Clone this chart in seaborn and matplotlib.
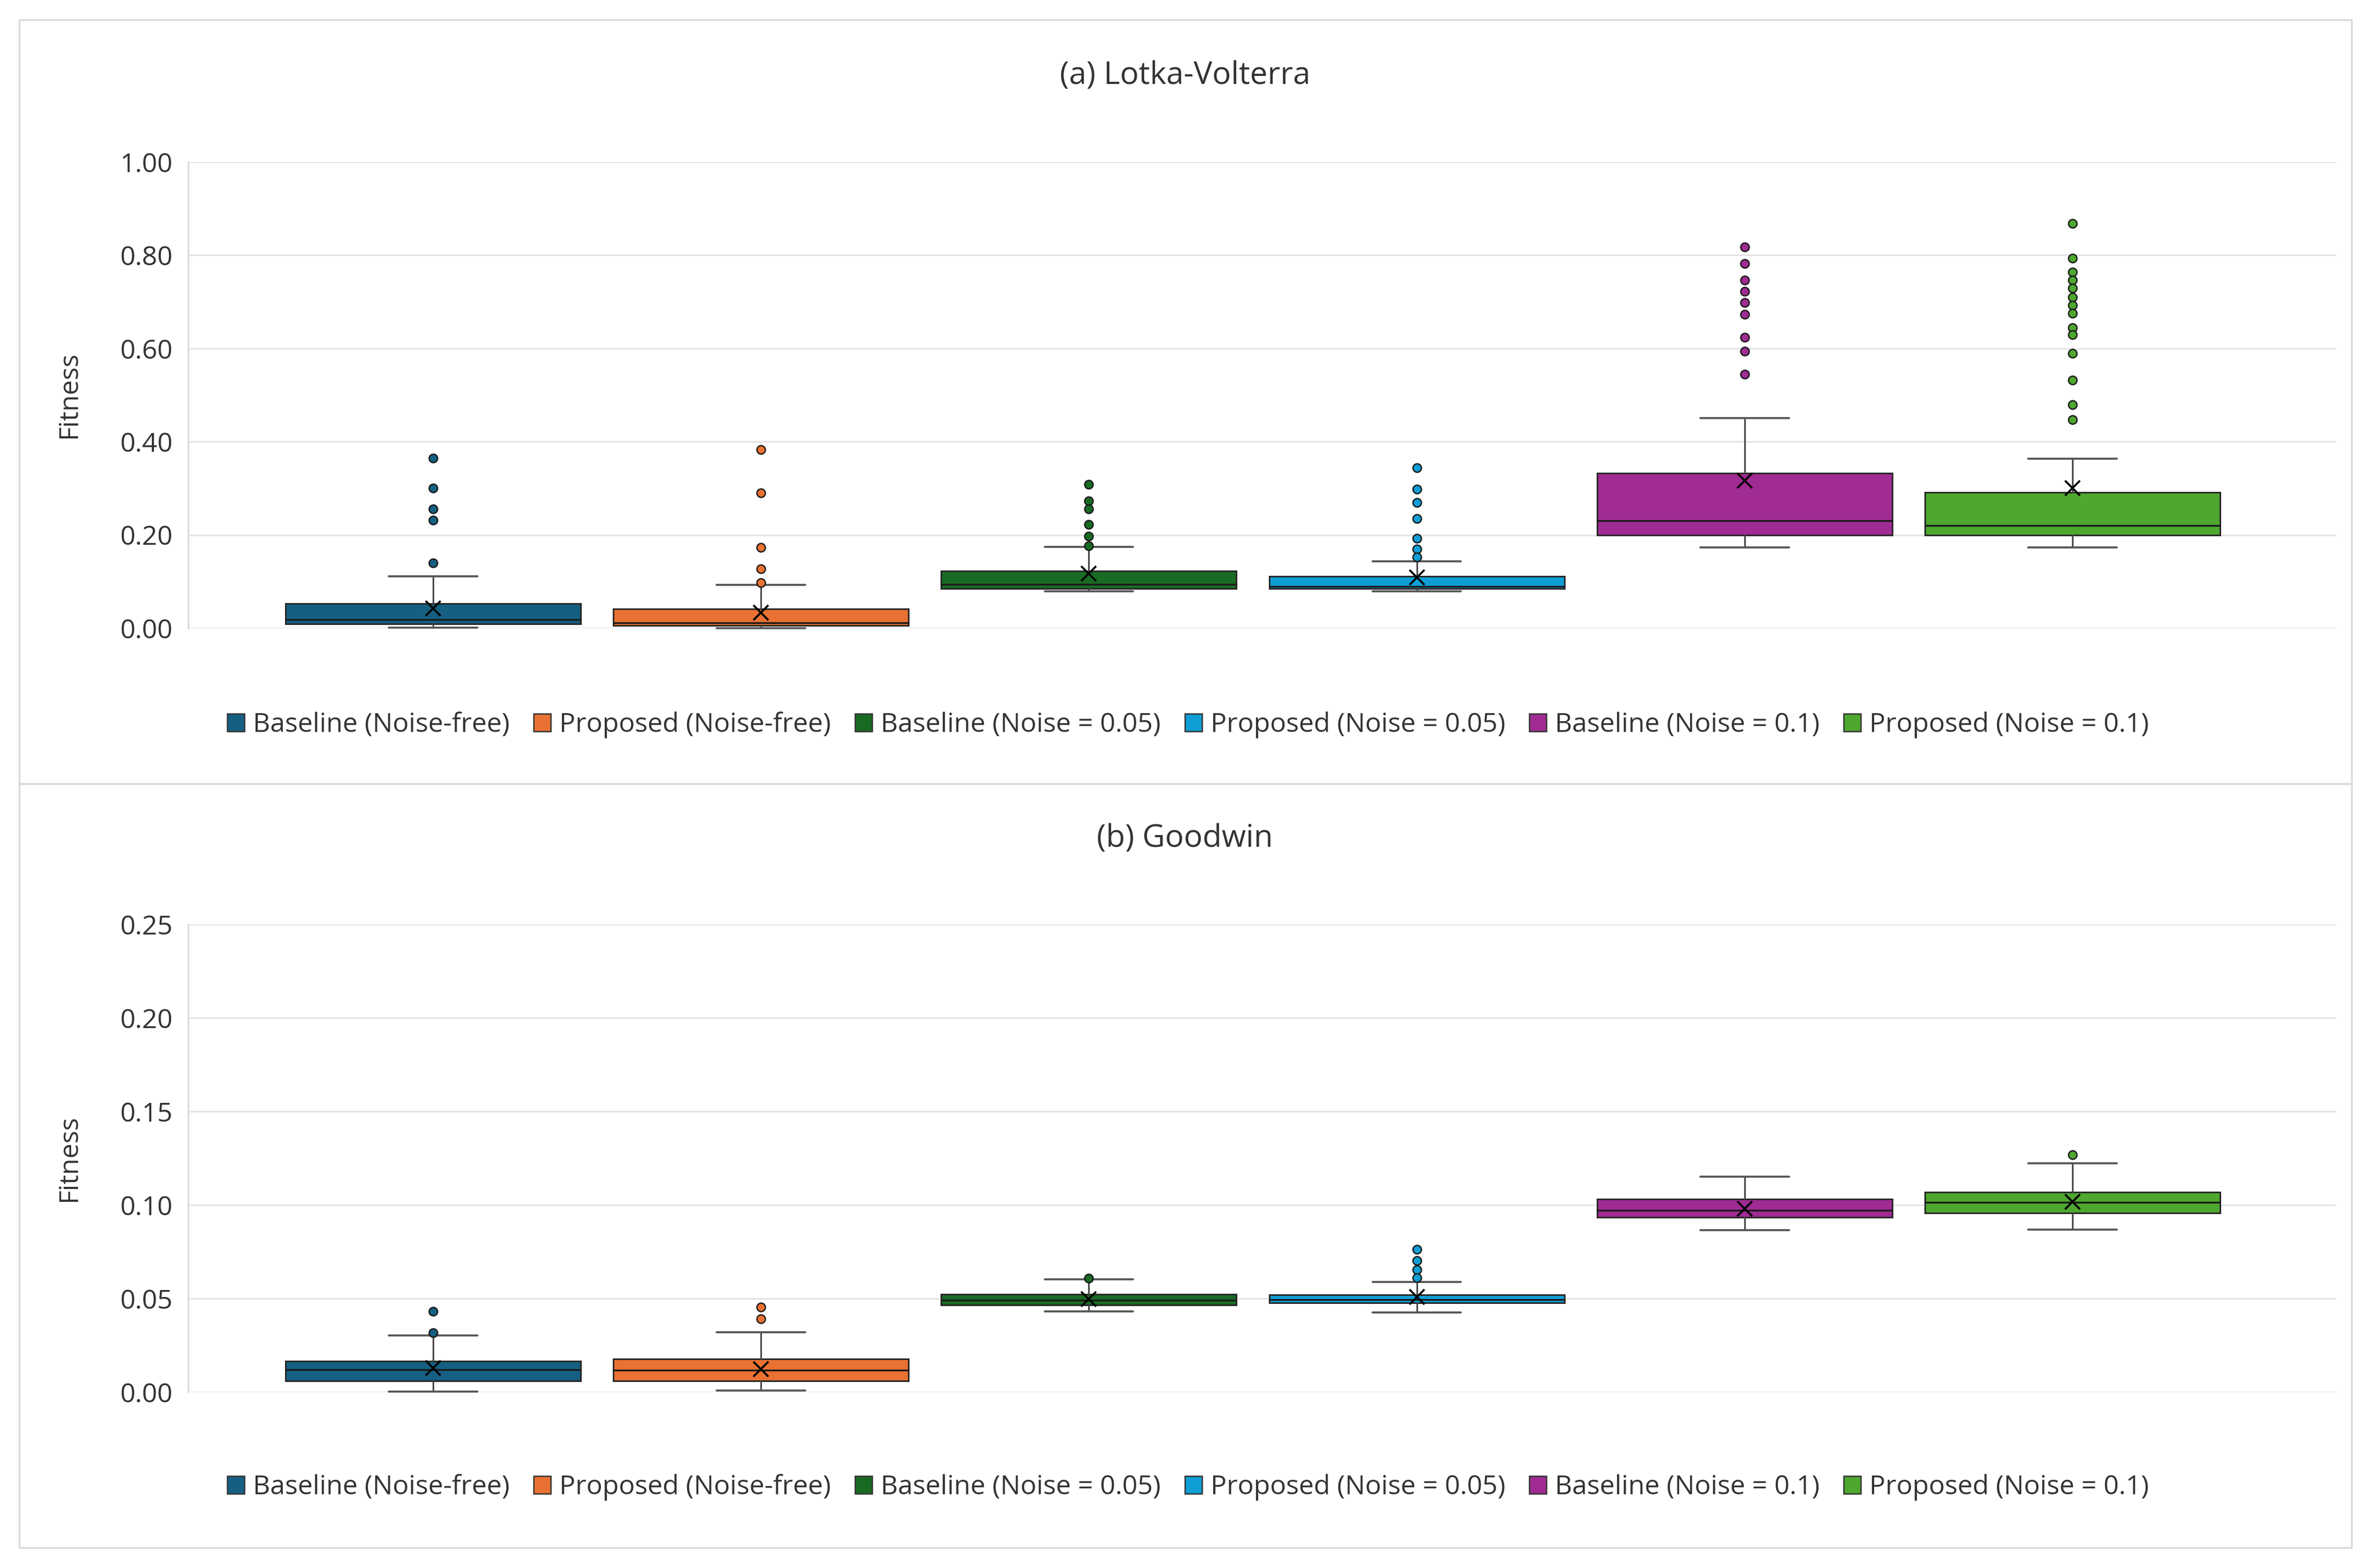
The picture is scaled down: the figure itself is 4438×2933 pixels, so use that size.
import matplotlib
matplotlib.use("Agg")
import matplotlib.pyplot as plt
from matplotlib.patches import Patch, Rectangle
import seaborn as sns

# ---------------- data ----------------
series = ["Baseline (Noise-free)", "Proposed (Noise-free)",
          "Baseline (Noise = 0.05)", "Proposed (Noise = 0.05)",
          "Baseline (Noise = 0.1)", "Proposed (Noise = 0.1)"]
colors = ["#156082", "#E97132", "#196B24", "#0F9ED5", "#A02B93", "#4EA72E"]

titles = ["(a) Lotka-Volterra", "(b) Goodwin"]
y_label = "Fitness"

# (a) Lotka-Volterra
lv_whislo = [0.001, 0.000, 0.079, 0.079, 0.173, 0.173]
lv_q1 = [0.009, 0.006, 0.085, 0.085, 0.199, 0.200]
lv_med = [0.018, 0.012, 0.094, 0.090, 0.231, 0.220]
lv_q3 = [0.053, 0.041, 0.123, 0.111, 0.333, 0.291]
lv_whishi = [0.111, 0.093, 0.174, 0.143, 0.451, 0.364]
lv_mean = [0.042, 0.033, 0.117, 0.109, 0.316, 0.301]
lv_fliers = [
    [0.365, 0.300, 0.256, 0.232, 0.140],
    [0.383, 0.290, 0.173, 0.127, 0.098],
    [0.309, 0.273, 0.256, 0.223, 0.197, 0.177],
    [0.344, 0.298, 0.269, 0.235, 0.193, 0.170, 0.153],
    [0.818, 0.782, 0.747, 0.722, 0.698, 0.673, 0.624, 0.594, 0.545],
    [0.868, 0.794, 0.764, 0.746, 0.729, 0.710, 0.693, 0.676, 0.645,
     0.630, 0.590, 0.532, 0.479, 0.447],
]
lv_ticks = [0.0, 0.2, 0.4, 0.6, 0.8, 1.0]

# (b) Goodwin
gw_whislo = [0.0004, 0.0010, 0.0432, 0.0426, 0.0866, 0.0870]
gw_q1 = [0.0060, 0.0060, 0.0466, 0.0476, 0.0933, 0.0957]
gw_med = [0.0120, 0.0116, 0.0492, 0.0495, 0.0971, 0.1014]
gw_q3 = [0.0165, 0.0178, 0.0524, 0.0520, 0.1031, 0.1069]
gw_whishi = [0.0302, 0.0321, 0.0602, 0.0588, 0.1152, 0.1222]
gw_mean = [0.0128, 0.0123, 0.0497, 0.0509, 0.0981, 0.1017]
gw_fliers = [
    [0.0432, 0.0317],
    [0.0455, 0.0392],
    [0.0609],
    [0.0764, 0.0703, 0.0653, 0.0612],
    [],
    [0.1269],
]
gw_ticks = [0.0, 0.05, 0.10, 0.15, 0.20, 0.25]

# ---------------- style ----------------
sns.set_theme(style="white")
plt.rcParams["font.family"] = ["Open Sans", "DejaVu Sans"]
palette = sns.color_palette(colors)

W, H = 4438, 2933
DPI = 300
fig = plt.figure(figsize=(W / DPI, H / DPI), dpi=DPI)
fig.patch.set_facecolor("white")

TEXT = "#333333"
GRID = "#e3e3e3"
BORDER = "#d9d9d9"


def fx(px):
    return px / W


def fy(py):
    return 1 - py / H


# panel borders
for top, bot in [(37, 1466), (1466, 2895)]:
    fig.patches.append(Rectangle((fx(36), fy(bot)), fx(4398) - fx(36), fy(top) - fy(bot),
                                 transform=fig.transFigure, fill=False,
                                 edgecolor=BORDER, linewidth=0.8, zorder=0))

panels = [
    dict(lo=lv_whislo, q1=lv_q1, med=lv_med, q3=lv_q3, hi=lv_whishi, mean=lv_mean,
         fl=lv_fliers, ticks=lv_ticks, ylim=(0, 1.0), top=303, bot=1175,
         title_y=142, leg_y=1356, fmt="{:.2f}"),
    dict(lo=gw_whislo, q1=gw_q1, med=gw_med, q3=gw_q3, hi=gw_whishi, mean=gw_mean,
         fl=gw_fliers, ticks=gw_ticks, ylim=(0, 0.25), top=1729, bot=2604,
         title_y=1569, leg_y=2782, fmt="{:.2f}"),
]

ax_left, ax_right = 352, 4369

for pi, p in enumerate(panels):
    ax = fig.add_axes([fx(ax_left), fy(p["bot"]), fx(ax_right) - fx(ax_left),
                       fy(p["top"]) - fy(p["bot"])])
    stats = []
    for i in range(len(series)):
        stats.append(dict(whislo=p["lo"][i], q1=p["q1"][i], med=p["med"][i],
                          q3=p["q3"][i], whishi=p["hi"][i], mean=p["mean"][i],
                          fliers=p["fl"][i], label=series[i]))
    res = ax.bxp(stats, positions=list(range(len(series))), widths=0.9,
                 capwidths=0.27, patch_artist=True, showmeans=True,
                 boxprops=dict(edgecolor="#262626", linewidth=0.7),
                 medianprops=dict(color="#1a1a1a", linewidth=0.8),
                 whiskerprops=dict(color="#404040", linewidth=0.7),
                 capprops=dict(color="#555555", linewidth=0.9),
                 meanprops=dict(marker="x", markeredgecolor="black",
                                markerfacecolor="black", markersize=6.5,
                                markeredgewidth=0.9),
                 flierprops=dict(marker="o", markersize=3.8,
                                 markeredgecolor="#1a1a1a",
                                 markeredgewidth=0.6))
    for i, box in enumerate(res["boxes"]):
        box.set_facecolor(palette[i])
        res["fliers"][i].set_markerfacecolor(palette[i])
    for key in res:
        for art in res[key]:
            art.set_clip_on(False)

    ax.set_xlim(-0.747, 5.804)
    ax.set_ylim(*p["ylim"])
    ax.set_yticks(p["ticks"])
    ax.set_yticklabels([p["fmt"].format(t) for t in p["ticks"]],
                       fontsize=12, color=TEXT)
    ax.set_xticks([])
    ax.tick_params(axis="y", length=0, pad=7)
    ax.yaxis.grid(True, color=GRID, linewidth=0.7)
    ax.set_axisbelow(True)
    for s in ["top", "right", "bottom"]:
        ax.spines[s].set_visible(False)
    ax.spines["left"].set_color(BORDER)
    ax.spines["left"].set_linewidth(0.7)
    ax.set_ylabel(y_label, fontsize=12, color=TEXT)
    ax.yaxis.set_label_coords((154 - ax_left) / (ax_right - ax_left), 0.5)

    fig.text(fx(2216), fy(p["title_y"]), titles[pi], ha="center", va="center",
             fontsize=14, color=TEXT)

    handles = [Patch(facecolor=palette[i], edgecolor="#333333", linewidth=0.6)
               for i in range(len(series))]
    fig.legend(handles, series, loc="center", bbox_to_anchor=(fx(2222), fy(p["leg_y"])),
               ncol=6, frameon=False, fontsize=12, handlelength=0.64,
               handleheight=0.64, handletextpad=0.32, columnspacing=0.9,
               labelcolor=TEXT, borderpad=0)

fig.savefig("out.png", dpi=DPI, facecolor="white")
